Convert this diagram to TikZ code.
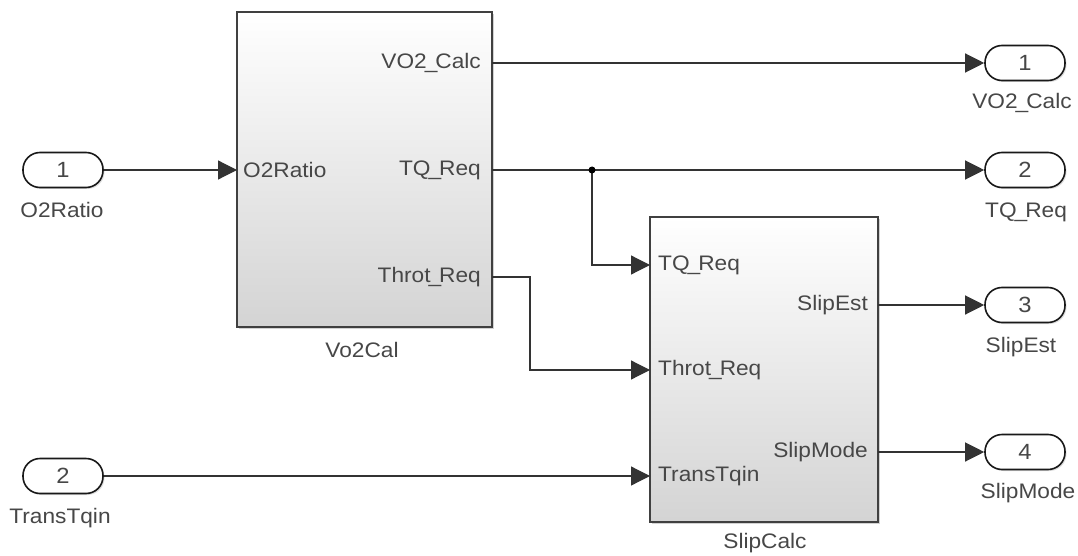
\documentclass[tikz,border=0pt]{standalone}
\usepackage{fontspec}
\setmainfont{Liberation Sans}
\newfontfamily\wfont[FakeStretch=1.08]{Liberation Sans}
\newcommand\usc{\kern-2pt\_\kern-2pt}
\usetikzlibrary{arrows.meta,calc,shadows}
\begin{document}
\begin{tikzpicture}[x=1pt,y=-1pt,
  lbl/.style={font=\wfont\fontsize{21}{24}\selectfont, text=black!72, inner sep=0},
  port/.style={draw=black!90, line width=1.6pt, rounded corners=17pt, minimum width=80pt, minimum height=35pt, fill=white, inner sep=0, font=\wfont\fontsize{22}{24}\selectfont, text=black!72, drop shadow={shadow xshift=1.5pt, shadow yshift=-1.5pt, opacity=0.25}},
  blk/.style={draw=black!75, line width=1.8pt, top color=white, middle color=white, bottom color=black!17, inner sep=0, drop shadow={shadow xshift=2pt, shadow yshift=-2pt, opacity=0.35}},
  wire/.style={draw=black!80, line width=1.2pt},
  arr/.style={wire, -{Triangle[length=19pt,width=19pt]}},
]
\useasboundingbox[fill=white] (0,0) rectangle (1078,556);

% blocks
\node[blk, minimum width=255pt, minimum height=315pt] (vo2) at (364.5,169.5) {};
\node[blk, minimum width=228pt, minimum height=305pt] (slip) at (764,369.5) {};
\node[lbl] (vo2name) at (362,350) {Vo2Cal};
\node[lbl] (slipname) at (765,543) {SlipCalc};

% port coordinates
\coordinate (vo2i1) at (237,170);
\coordinate (vo2o1) at (492,63);
\coordinate (vo2o2) at (492,170);
\coordinate (vo2o3) at (492,277);
\coordinate (slipi1) at (650,265);
\coordinate (slipi2) at (650,370);
\coordinate (slipi3) at (650,476);
\coordinate (slipo1) at (878,305);
\coordinate (slipo2) at (878,452);

% port labels inside blocks
\node[lbl, anchor=west] (l1) at ($(vo2i1)+(6,0)$) {O2Ratio};
\node[lbl, anchor=east] (l2) at ($(vo2o1)+(-11,0)$) {VO2\usc Calc};
\node[lbl, anchor=east] (l3) at ($(vo2o2)+(-11,0)$) {TQ\usc Req};
\node[lbl, anchor=east] (l4) at ($(vo2o3)+(-11,0)$) {Throt\usc Req};
\node[lbl, anchor=west] (l5) at ($(slipi1)+(8,0)$) {TQ\usc Req};
\node[lbl, anchor=west] (l6) at ($(slipi2)+(8,0)$) {Throt\usc Req};
\node[lbl, anchor=west] (l7) at ($(slipi3)+(8,0)$) {TransTqin};
\node[lbl, anchor=east] (l8) at ($(slipo1)+(-10,0)$) {SlipEst};
\node[lbl, anchor=east] (l9) at ($(slipo2)+(-10,0)$) {SlipMode};

% inports
\node[port] (in1) at (63,170) {1};
\node[lbl] (in1n) at (62,210) {O2Ratio};
\node[port] (in2) at (63,476) {2};
\node[lbl] (in2n) at (60,518) {TransTqin};

% outports
\node[port] (out1) at (1025,63) {1};
\node[lbl] (out1n) at (1022,103) {VO2\usc Calc};
\node[port] (out2) at (1025,170) {2};
\node[lbl] (out2n) at (1026,212) {TQ\usc Req};
\node[port] (out3) at (1025,305) {3};
\node[lbl] (out3n) at (1021,347) {SlipEst};
\node[port] (out4) at (1025,452) {4};
\node[lbl] (out4n) at (1028,493) {SlipMode};

% wires
\coordinate (j) at (592,170);
\coordinate (bend) at (530,277);
\draw[arr] (in1.east) -- (vo2i1);
\draw[arr] (vo2o1) -- (out1.west);
\draw[arr] (vo2o2) -- (out2.west);
\draw[arr] (j) |- (slipi1);
\draw[arr] (vo2o3) -- (bend) |- (slipi2);
\draw[arr] (in2.east) -- (slipi3);
\draw[arr] (slipo1) -- (out3.west);
\draw[arr] (slipo2) -- (out4.west);
\fill[black] (j) circle (3.5pt);
\end{tikzpicture}
\end{document}
